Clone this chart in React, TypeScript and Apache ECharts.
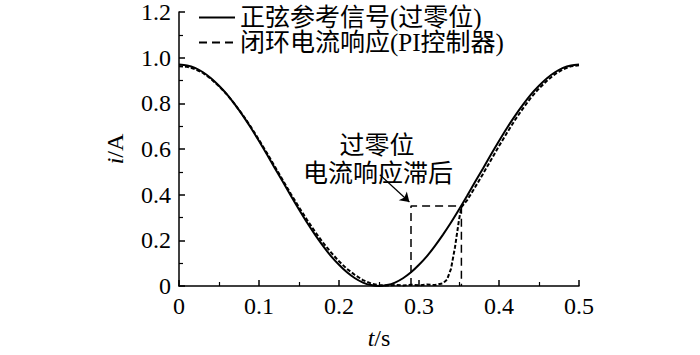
import React, { useEffect, useRef } from "react";
import * as echarts from "echarts";

const refName = "正弦参考信号(过零位)";
const respName = "闭环电流响应(PI控制器)";

const refTimes = [
  0, 0.01, 0.02, 0.03, 0.04, 0.05, 0.06, 0.07, 0.08, 0.09, 0.1, 0.11, 0.12, 0.13, 0.14, 0.15, 0.16,
  0.17, 0.18, 0.19, 0.2, 0.21, 0.22, 0.23, 0.24, 0.25, 0.26, 0.27, 0.28, 0.29, 0.3, 0.31, 0.32, 0.33,
  0.34, 0.35, 0.36, 0.37, 0.38, 0.39, 0.4, 0.41, 0.42, 0.43, 0.44, 0.45, 0.46, 0.47, 0.48, 0.49, 0.5,
];
const refValues = [
  0.97, 0.966, 0.955, 0.936, 0.91, 0.877, 0.839, 0.794, 0.745, 0.692, 0.635, 0.576, 0.515, 0.455,
  0.394, 0.335, 0.278, 0.225, 0.176, 0.131, 0.093, 0.06, 0.034, 0.015, 0.004, 0.0, 0.004, 0.015,
  0.034, 0.06, 0.093, 0.131, 0.176, 0.225, 0.278, 0.335, 0.394, 0.455, 0.515, 0.576, 0.635, 0.692,
  0.745, 0.794, 0.839, 0.877, 0.91, 0.936, 0.955, 0.966, 0.97,
];

const respTimes = [
  0, 0.01, 0.02, 0.03, 0.04, 0.05, 0.06, 0.07, 0.08, 0.09, 0.1, 0.11, 0.12, 0.13, 0.14, 0.15, 0.16,
  0.17, 0.18, 0.19, 0.2, 0.21, 0.22, 0.23, 0.24, 0.25, 0.26, 0.27, 0.28, 0.29, 0.3, 0.31, 0.32, 0.33,
  0.335, 0.34, 0.345, 0.35, 0.353, 0.36, 0.37, 0.38, 0.39, 0.4, 0.41, 0.42, 0.43, 0.44, 0.45, 0.46,
  0.47, 0.48, 0.49, 0.5,
];
const respValues = [
  0.962, 0.96, 0.95, 0.933, 0.907, 0.875, 0.838, 0.795, 0.748, 0.696, 0.64, 0.582, 0.522, 0.462,
  0.402, 0.345, 0.29, 0.238, 0.19, 0.147, 0.108, 0.075, 0.048, 0.026, 0.011, 0.004, 0.002, 0.005,
  0.002, 0.006, 0.003, 0.007, 0.004, 0.012, 0.028, 0.075, 0.17, 0.29, 0.345, 0.375, 0.432, 0.491,
  0.552, 0.613, 0.671, 0.727, 0.778, 0.825, 0.865, 0.899, 0.928, 0.949, 0.962, 0.967,
];

// annotation box marking the lagging zero-crossing region
const boxTimes = [0.29, 0.29, 0.353, 0.353];
const boxValues = [0, 0.35, 0.35, 0];
const arrowFrom = [0.251, 0.487];
const arrowTo = [0.288, 0.368];
const noteLines = ["过零位", "电流响应滞后"];

const FONT = "'Liberation Serif', 'Noto Sans CJK SC', serif";

export default function App() {
  const ref = useRef<HTMLDivElement>(null);
  useEffect(() => {
    if (!ref.current) return;
    const chart = echarts.init(ref.current, undefined, { renderer: "svg" });
    const fmt = (v: number) => (Math.abs(v) < 1e-9 ? "0" : v.toFixed(1));
    const axisCommon = {
      axisLine: { show: true, lineStyle: { color: "#000", width: 1.5 } },
      axisTick: { show: true, inside: true, length: 6, lineStyle: { color: "#000", width: 1.5 } },
      minorTick: { show: true, splitNumber: 2, length: 4, lineStyle: { color: "#000", width: 1.2 } },
      splitLine: { show: false },
      axisLabel: { color: "#000", fontSize: 24, fontFamily: FONT, formatter: fmt },
    };
    const nameStyle = {
      fontSize: 24,
      color: "#000",
      fontFamily: FONT,
      rich: { i: { fontStyle: "italic", fontSize: 24, fontFamily: FONT, color: "#000" } },
    };
    chart.setOption({
      animation: false,
      backgroundColor: "#fff",
      grid: { left: 179, top: 12, width: 400, height: 291, containLabel: false },
      legend: {
        data: [
          { name: refName },
          { name: respName, lineStyle: { type: [8, 5], width: 2 } },
        ],
        orient: "vertical",
        left: 198,
        top: 5,
        itemWidth: 36,
        itemHeight: 12,
        itemGap: 0,
        padding: 0,
        itemStyle: { opacity: 0, borderWidth: 0 },
        textStyle: { fontSize: 25, lineHeight: 25, color: "#000", fontFamily: FONT },
      },
      xAxis: {
        type: "value",
        min: 0,
        max: 0.5,
        interval: 0.1,
        name: "{i|t}/s",
        nameLocation: "middle",
        nameGap: 40,
        nameTextStyle: nameStyle,
        ...axisCommon,
        axisLabel: { ...axisCommon.axisLabel, margin: 8 },
      },
      yAxis: {
        type: "value",
        min: 0,
        max: 1.2,
        interval: 0.2,
        name: "{i|i}/A",
        nameLocation: "middle",
        nameGap: 52,
        nameTextStyle: nameStyle,
        ...axisCommon,
        axisLabel: { ...axisCommon.axisLabel, margin: 8 },
      },
      series: [
        {
          name: refName,
          type: "line",
          data: refTimes.map((t, i) => [t, refValues[i]]),
          symbol: "none",
          smooth: 0.3,
          lineStyle: { color: "#000", width: 2, type: "solid" },
          itemStyle: { color: "#000" },
        },
        {
          name: respName,
          type: "line",
          data: respTimes.map((t, i) => [t, respValues[i]]),
          symbol: "none",
          lineStyle: { color: "#000", width: 2, type: [4, 2] },
          itemStyle: { color: "#000" },
        },
        {
          name: "box",
          type: "line",
          data: boxTimes.map((t, i) => [t, boxValues[i]]),
          symbol: "none",
          lineStyle: { color: "#000", width: 1.5, type: [8, 5] },
          markLine: {
            silent: true,
            symbol: ["none", "arrow"],
            symbolSize: 9,
            label: { show: false },
            lineStyle: { color: "#000", width: 1.2, type: "solid" },
            data: [[{ coord: arrowFrom }, { coord: arrowTo }]],
          },
        },
      ],
      graphic: [
        {
          type: "text",
          x: 377,
          y: 145,
          style: {
            text: noteLines[0],
            fontSize: 25,
            fontFamily: FONT,
            fill: "#000",
            textAlign: "center",
            textVerticalAlign: "middle",
          },
        },
        {
          type: "text",
          x: 378,
          y: 173,
          style: {
            text: noteLines[1],
            fontSize: 25,
            fontFamily: FONT,
            fill: "#000",
            textAlign: "center",
            textVerticalAlign: "middle",
          },
        },
      ],
    });
    return () => chart.dispose();
  }, []);
  return (
    <div
      ref={ref}
      style={{ position: "fixed", left: 0, top: 0, width: 700, height: 355, background: "#fff" }}
    />
  );
}
